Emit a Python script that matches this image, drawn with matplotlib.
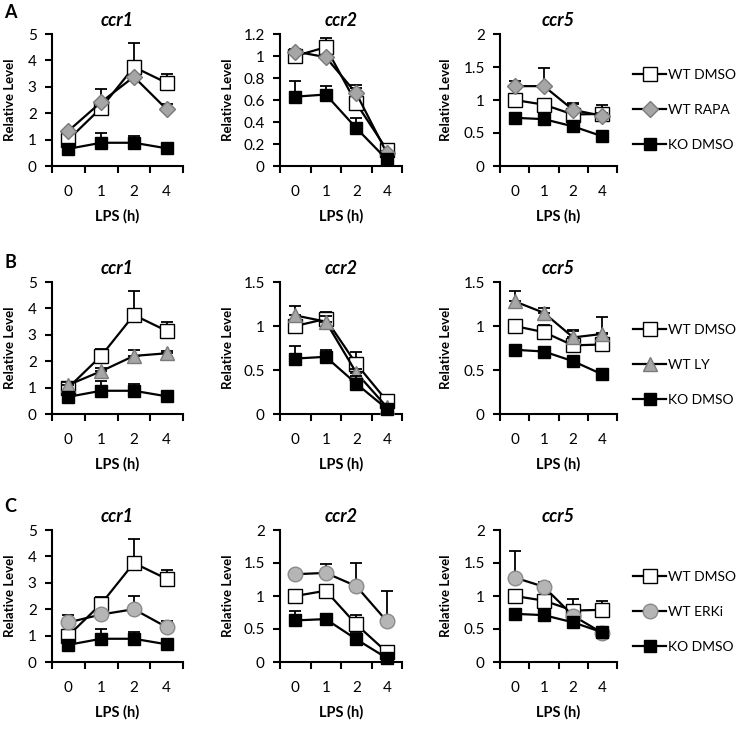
import numpy as np
import matplotlib
matplotlib.use('Agg')
import matplotlib.pyplot as plt
from matplotlib.lines import Line2D
from matplotlib.ticker import FuncFormatter

plt.rcParams['font.family'] = ['Lato', 'DejaVu Sans']

# LPS time points (categories)
times = ['0', '1', '2', '4']
genes = ['ccr1', 'ccr2', 'ccr5']

# WT DMSO (same in all rows)
wt_dmso_ccr1 = [1.0, 2.2, 3.75, 3.15]
wt_dmso_ccr1_err = [0.1, 0.25, 0.9, 0.35]
wt_dmso_ccr2 = [1.0, 1.08, 0.57, 0.15]
wt_dmso_ccr2_err = [0.02, 0.08, 0.14, 0.02]
wt_dmso_ccr5 = [1.0, 0.93, 0.78, 0.79]
wt_dmso_ccr5_err = [0.03, 0.08, 0.17, 0.13]

# KO DMSO (same in all rows)
ko_dmso_ccr1 = [0.65, 0.88, 0.88, 0.67]
ko_dmso_ccr1_err = [0.05, 0.36, 0.25, 0.05]
ko_dmso_ccr2 = [0.63, 0.65, 0.345, 0.06]
ko_dmso_ccr2_err = [0.14, 0.08, 0.09, 0.02]
ko_dmso_ccr5 = [0.73, 0.71, 0.60, 0.45]
ko_dmso_ccr5_err = [0.03, 0.03, 0.03, 0.03]

# treatments
wt_rapa_ccr1 = [1.33, 2.42, 3.38, 2.15]
wt_rapa_ccr1_err = [0.05, 0.5, 0.05, 0.2]
wt_rapa_ccr2 = [1.04, 0.99, 0.66, 0.12]
wt_rapa_ccr2_err = [0.02, 0.02, 0.08, 0.02]
wt_rapa_ccr5 = [1.21, 1.21, 0.85, 0.76]
wt_rapa_ccr5_err = [0.08, 0.27, 0.09, 0.05]

wt_ly_ccr1 = [1.1, 1.62, 2.2, 2.3]
wt_ly_ccr1_err = [0.1, 0.12, 0.22, 0.08]
wt_ly_ccr2 = [1.12, 1.05, 0.47, 0.08]
wt_ly_ccr2_err = [0.11, 0.06, 0.04, 0.02]
wt_ly_ccr5 = [1.28, 1.15, 0.87, 0.91]
wt_ly_ccr5_err = [0.12, 0.06, 0.07, 0.19]

wt_erki_ccr1 = [1.5, 1.8, 2.0, 1.32]
wt_erki_ccr1_err = [0.28, 0.1, 0.5, 0.25]
wt_erki_ccr2 = [1.33, 1.35, 1.15, 0.62]
wt_erki_ccr2_err = [0.03, 0.13, 0.35, 0.45]
wt_erki_ccr5 = [1.28, 1.14, 0.70, 0.44]
wt_erki_ccr5_err = [0.4, 0.07, 0.05, 0.05]

# y axis maximum / step per row, per gene
row_ylims = [[(5, 1), (1.2, 0.2), (2, 0.5)],
             [(5, 1), (1.5, 0.5), (1.5, 0.5)],
             [(5, 1), (2, 0.5), (2, 0.5)]]

wt_dmso = {'ccr1': (wt_dmso_ccr1, wt_dmso_ccr1_err), 'ccr2': (wt_dmso_ccr2, wt_dmso_ccr2_err),
           'ccr5': (wt_dmso_ccr5, wt_dmso_ccr5_err)}
ko_dmso = {'ccr1': (ko_dmso_ccr1, ko_dmso_ccr1_err), 'ccr2': (ko_dmso_ccr2, ko_dmso_ccr2_err),
           'ccr5': (ko_dmso_ccr5, ko_dmso_ccr5_err)}
rapa = {'ccr1': (wt_rapa_ccr1, wt_rapa_ccr1_err), 'ccr2': (wt_rapa_ccr2, wt_rapa_ccr2_err),
        'ccr5': (wt_rapa_ccr5, wt_rapa_ccr5_err)}
ly = {'ccr1': (wt_ly_ccr1, wt_ly_ccr1_err), 'ccr2': (wt_ly_ccr2, wt_ly_ccr2_err),
      'ccr5': (wt_ly_ccr5, wt_ly_ccr5_err)}
erki = {'ccr1': (wt_erki_ccr1, wt_erki_ccr1_err), 'ccr2': (wt_erki_ccr2, wt_erki_ccr2_err),
        'ccr5': (wt_erki_ccr5, wt_erki_ccr5_err)}

style_dmso = dict(marker='s', ms=10, mfc='white', mec='black', mew=1.0)
style_ko = dict(marker='s', ms=8.5, mfc='black', mec='black', mew=1.0)
rows = [
    ('A', 'WT RAPA', rapa, dict(marker='D', ms=8, mfc='#a6a6a6', mec='#7a7a7a', mew=1.0), 110),
    ('B', 'WT LY', ly, dict(marker='^', ms=10.5, mfc='#a6a6a6', mec='#7a7a7a', mew=1.0), 365),
    ('C', 'WT ERKi', erki, dict(marker='o', ms=10.5, mfc='#b5b5b5', mec='#8a8a8a', mew=1.0), 612),
]

W, H = 745, 729
fig = plt.figure(figsize=(W / 100, H / 100), dpi=100)

col_px = [(52, 183), (280, 402), (500, 617)]
row_px = [(34, 166), (282, 414), (530, 662)]
ylabel_px = [16, 234, 452]
letter_y = [13, 262, 506]

x = np.arange(len(times))

for r, (letter, tname, tdata, tstyle, leg_y) in enumerate(rows):
    top, bot = row_px[r]
    for c, gene in enumerate(genes):
        left, right = col_px[c]
        ax = fig.add_axes([left / W, 1 - bot / H, (right - left) / W, (bot - top) / H])
        series = [(wt_dmso[gene], style_dmso), (tdata[gene], tstyle), (ko_dmso[gene], style_ko)]
        for i, ((vals, errs), st) in enumerate(series):
            ax.errorbar(x, vals, yerr=[np.zeros(len(errs)), errs], fmt='none', ecolor='black',
                        elinewidth=1.3, capsize=4, capthick=1.3, zorder=2 + 2 * i)
            ax.plot(x, vals, color='black', lw=1.6, zorder=3 + 2 * i, clip_on=False, **st)
        ymax, step = row_ylims[r][c]
        ax.set_ylim(0, ymax)
        ax.set_yticks(np.arange(0, ymax + step / 2, step))
        ax.yaxis.set_major_formatter(FuncFormatter(lambda v, p: f'{v:g}'))
        ax.set_xlim(-0.5, 3.5)
        ax.set_xticks(x)
        ax.set_xticklabels(times)
        ax.set_xticks([-0.5, 0.5, 1.5, 2.5, 3.5], minor=True)
        ax.tick_params(axis='x', which='major', length=0, pad=14, labelsize=11)
        ax.tick_params(axis='x', which='minor', length=5, width=1.5, direction='out')
        ax.tick_params(axis='y', length=5, width=1.5, direction='out', pad=6, labelsize=11)
        for s in ['top', 'right']:
            ax.spines[s].set_visible(False)
        for s in ['left', 'bottom']:
            ax.spines[s].set_linewidth(1.5)
        ax.set_title(gene, style='italic', weight='bold', fontsize=13, pad=6)
        ax.set_xlabel('LPS (h)', weight='bold', fontsize=10.5, labelpad=7)
        ax.set_ylabel('Relative Level', weight='bold', fontsize=9.5)
        ax.yaxis.set_label_coords((ylabel_px[c] - left) / (right - left), 0.5)

    fig.text(4 / W, 1 - letter_y[r] / H, letter, fontsize=13, weight='bold', va='center')

    handles = [Line2D([0], [0], color='black', lw=1.6, **style_dmso),
               Line2D([0], [0], color='black', lw=1.6, **tstyle),
               Line2D([0], [0], color='black', lw=1.6, **style_ko)]
    fig.legend(handles, ['WT DMSO', tname, 'KO DMSO'], loc='center left',
               bbox_to_anchor=(633 / W, 1 - leg_y / H), frameon=False, fontsize=10,
               handlelength=2.4, handletextpad=0.1, labelspacing=1.65,
               borderpad=0, borderaxespad=0)

fig.savefig('out.png', dpi=100)
